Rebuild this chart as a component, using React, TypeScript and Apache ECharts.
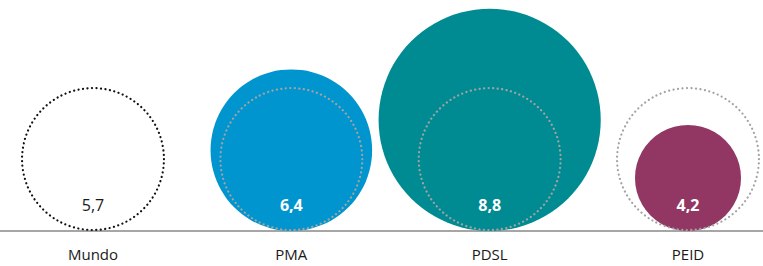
import React, { useEffect, useRef } from "react";
import * as echarts from "echarts";

const categories = ["Mundo", "PMA", "PDSL", "PEID"];
const values = [5.7, 6.4, 8.8, 4.2];
const valueLabels = ["5,7", "6,4", "8,8", "4,2"];
const referenceValue = 5.7;
const colors = ["transparent", "#0095cf", "#008b92", "#923763"];

export default function App() {
  const ref = useRef<HTMLDivElement>(null);
  useEffect(() => {
    if (!ref.current) return;
    const chart = echarts.init(ref.current, null, { renderer: "svg" });
    const data = values.map((v, i) => [i, v, i]);
    chart.setOption({
      animation: false,
      backgroundColor: "#ffffff",
      grid: { left: 93, right: 75, top: 0, bottom: 35, containLabel: false },
      xAxis: {
        type: "category",
        data: categories,
        boundaryGap: false,
        axisLine: { show: false },
        axisTick: { show: false },
        axisLabel: {
          color: "#1a1a1a",
          fontSize: 15,
          fontFamily: "Open Sans",
          margin: 15,
        },
        splitLine: { show: false },
      },
      yAxis: {
        type: "value",
        min: 0,
        max: 18.3,
        show: false,
      },
      graphic: [
        {
          type: "line",
          shape: { x1: 0, y1: 231, x2: 763, y2: 231 },
          style: { stroke: "#a6a6a6", lineWidth: 2 },
          z: 0,
        },
      ],
      series: [
        {
          type: "custom",
          data,
          clip: false,
          renderItem: (params: any, api: any) => {
            const idx = api.value(2);
            const v = api.value(1);
            const c = api.coord([api.value(0), v]);
            const r = api.size([0, v])[1];
            const refC = api.coord([api.value(0), referenceValue]);
            const refR = api.size([0, referenceValue])[1];
            const base = api.coord([api.value(0), 0]);
            const isWorld = idx === 0;
            const children: any[] = [];
            if (!isWorld) {
              children.push({
                type: "circle",
                shape: { cx: c[0], cy: c[1], r },
                style: { fill: colors[idx], stroke: null },
              });
            }
            children.push({
              type: "circle",
              shape: { cx: refC[0], cy: refC[1], r: refR - 1 },
              style: {
                fill: null,
                stroke: isWorld ? "#111111" : "#a3a3a3",
                lineWidth: 2.2,
                lineDash: [0.1, 4.4],
                lineCap: "round",
              },
            });
            children.push({
              type: "text",
              style: {
                text: valueLabels[idx],
                x: base[0],
                y: base[1] - 26,
                align: "center",
                verticalAlign: "middle",
                fill: isWorld ? "#1a1a1a" : "#ffffff",
                fontSize: 16,
                fontWeight: isWorld ? "normal" : "bold",
                fontFamily: "Open Sans",
              },
            });
            return { type: "group", children };
          },
        },
      ],
    });
    return () => chart.dispose();
  }, []);
  return (
    <div
      ref={ref}
      style={{ position: "fixed", left: 0, top: 0, width: 763, height: 266 }}
    />
  );
}
